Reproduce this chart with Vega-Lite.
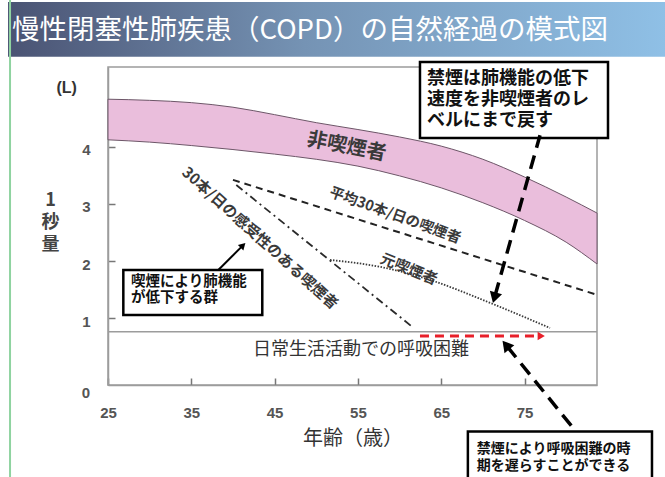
{
  "$schema": "https://vega.github.io/schema/vega-lite/v6.json",
  "width": 489,
  "height": 318,
  "autosize": {"type": "none"},
  "padding": {"left": 108, "top": 67, "right": 68, "bottom": 92},
  "background": "white",
  "config": {
    "view": {"stroke": "#9c9c9c", "strokeWidth": 1.5},
    "font": "Noto Sans CJK JP"
  },
  "datasets": {
    "banner": [{"age": 13.0, "age2": 92, "fev": 6.53, "fev2": 5.57}],
    "edge": [{"age": 13.24, "fev": 6.6, "fev2": -1.9}],
    "threshold": [{"age": 25, "age2": 83.7, "fev": 0.766}],
    "band": [
      {"age": 25, "fev": 4.83, "fev2": 4.12},
      {"age": 30, "fev": 4.81, "fev2": 4.08},
      {"age": 35, "fev": 4.77, "fev2": 4.02},
      {"age": 40, "fev": 4.69, "fev2": 3.95},
      {"age": 45, "fev": 4.56, "fev2": 3.87},
      {"age": 50, "fev": 4.42, "fev2": 3.78},
      {"age": 55, "fev": 4.30, "fev2": 3.66},
      {"age": 60, "fev": 4.17, "fev2": 3.49},
      {"age": 65, "fev": 4.01, "fev2": 3.28},
      {"age": 70, "fev": 3.78, "fev2": 3.02},
      {"age": 75, "fev": 3.47, "fev2": 2.71},
      {"age": 80, "fev": 3.12, "fev2": 2.33},
      {"age": 83.7, "fev": 2.84, "fev2": 1.95}
    ],
    "curves": [
      {"series": "avg", "age": 40.0, "fev": 3.42},
      {"series": "avg", "age": 83.7, "fev": 1.41},
      {"series": "sus", "age": 40.4, "fev": 3.33},
      {"series": "sus", "age": 61.7, "fev": 0.83},
      {"series": "ex", "age": 51.65, "fev": 2.02},
      {"series": "ex", "age": 57.65, "fev": 1.90},
      {"series": "ex", "age": 63.66, "fev": 1.67},
      {"series": "ex", "age": 70.86, "fev": 1.27},
      {"series": "ex", "age": 78.06, "fev": 0.83}
    ],
    "arrows": [
      {"arrow": "a1", "age": 76.86, "fev": 4.20},
      {"arrow": "a1", "age": 71.45, "fev": 1.39},
      {"arrow": "a2", "age": 80.86, "fev": -0.923},
      {"arrow": "a2", "age": 72.91, "fev": 0.509},
      {"arrow": "a3", "age": 38.24, "fev": 1.844},
      {"arrow": "a3", "age": 41.11, "fev": 2.262},
      {"arrow": "red", "age": 62.45, "fev": 0.69},
      {"arrow": "red", "age": 76.86, "fev": 0.69}
    ],
    "heads": [
      {"arrow": "a1", "age": 71.45, "fev": 1.39},
      {"arrow": "a2", "age": 72.91, "fev": 0.509},
      {"arrow": "a3", "age": 41.11, "fev": 2.262},
      {"arrow": "red", "age": 76.86, "fev": 0.69}
    ],
    "boxes": [
      {"box": "b1", "age": 62.45, "age2": 85.02, "fev": 5.48, "fev2": 4.15},
      {"box": "b2", "age": 26.84, "age2": 43.52, "fev": 1.844, "fev2": 1.058},
      {"box": "b3", "age": 68.2, "age2": 90.3, "fev": -0.98, "fev2": -1.95}
    ],
    "labels": [
      {"key": "title", "label": "慢性閉塞性肺疾患（COPD）の自然経過の模式図", "age": 13.48, "fev": 6.02},
      {"key": "unit", "label": "(L)", "age": 20.04, "fev": 5.03},
      {"key": "zero", "label": "0", "age": 22.36, "fev": -0.306},
      {"key": "non", "label": "非喫煙者", "age": 53.66, "fev": 4.0},
      {"key": "avg", "label": "平均30本/日の喫煙者", "age": 59.45, "fev": 2.79},
      {"key": "ex", "label": "元喫煙者", "age": 61.13, "fev": 1.86},
      {"key": "sus", "label": "30本/日の感受性のある喫煙者", "age": 43.25, "fev": 2.40},
      {"key": "thr", "label": "日常生活活動での呼吸困難", "age": 55.37, "fev": 0.446},
      {"key": "b1", "label": "禁煙は肺機能の低下\n速度を非喫煙者のレ\nベルにまで戻す", "age": 63.3, "fev": 5.34},
      {"key": "b2", "label": "喫煙により肺機能\nが低下する群", "age": 27.76, "fev": 1.757},
      {"key": "b3", "label": "禁煙により呼吸困難の時\n期を遅らすことができる", "age": 69.26, "fev": -1.163}
    ]
  },
  "encoding": {
    "x": {
      "field": "age", "type": "quantitative",
      "scale": {"domain": [25, 83.7], "nice": false, "zero": false},
      "axis": {
        "values": [25, 35, 45, 55, 65, 75],
        "title": "年齢（歳）",
        "titleFont": "Noto Sans CJK JP", "titleFontSize": 20, "titleFontWeight": "normal", "titleColor": "#333",
        "titleBaseline": "middle", "titleY": 53,
        "labelFont": "Liberation Sans Narrow, Liberation Sans", "labelFontSize": 15, "labelFontWeight": "bold", "labelColor": "#555",
        "labelFlush": false, "labelPadding": 27,
        "tickSize": -7, "tickColor": "#777", "tickWidth": 1.5,
        "domainColor": "#9c9c9c", "domainWidth": 1.5, "grid": false
      }
    },
    "y": {
      "field": "fev", "type": "quantitative",
      "scale": {"domain": [-0.166, 5.393], "nice": false, "zero": false},
      "axis": {
        "values": [1, 2, 3, 4],
        "title": ["1", "秒", "量"],
        "titleFont": "Noto Sans CJK JP", "titleFontSize": 18, "titleFontWeight": "bold", "titleColor": "#444",
        "titleAngle": 0, "titleAlign": "center", "titleBaseline": "top", "titleX": -58, "titleY": 124, "titleLineHeight": 22,
        "labelFont": "Liberation Sans Narrow, Liberation Sans", "labelFontSize": 15, "labelFontWeight": "bold", "labelColor": "#555",
        "labelPadding": 25, "labelOffset": 3,
        "tickSize": -7, "tickColor": "#777", "tickWidth": 1.5,
        "domainColor": "#9c9c9c", "domainWidth": 1.5, "grid": false
      }
    }
  },
  "layer": [
    {
      "data": {"name": "banner"},
      "mark": {"type": "rect", "color": {"gradient": "linear", "stops": [{"offset": 0, "color": "#4a5373"}, {"offset": 0.45, "color": "#7593b4"}, {"offset": 1, "color": "#8fc0e6"}]}},
      "encoding": {"x2": {"field": "age2"}, "y2": {"field": "fev2"}}
    },
    {
      "data": {"name": "edge"},
      "mark": {"type": "rule", "color": "#8fd3a0", "strokeWidth": 2},
      "encoding": {"y2": {"field": "fev2"}}
    },
    {
      "data": {"name": "band"},
      "mark": {"type": "area", "fill": "#eabedc", "stroke": "#6d5668", "strokeWidth": 1, "interpolate": "monotone"},
      "encoding": {"y2": {"field": "fev2"}}
    },
    {
      "data": {"name": "threshold"},
      "mark": {"type": "rule", "color": "#9c9c9c", "strokeWidth": 1.5},
      "encoding": {"x2": {"field": "age2"}}
    },
    {
      "data": {"name": "curves"},
      "transform": [{"filter": "datum.series == 'avg'"}],
      "mark": {"type": "line", "color": "#222", "strokeWidth": 2, "strokeDash": [7, 5]},
      "encoding": {}
    },
    {
      "data": {"name": "curves"},
      "transform": [{"filter": "datum.series == 'sus'"}],
      "mark": {"type": "line", "color": "#2a2a2a", "strokeWidth": 1.8, "strokeDash": [8, 4, 2, 4]},
      "encoding": {}
    },
    {
      "data": {"name": "curves"},
      "transform": [{"filter": "datum.series == 'ex'"}],
      "mark": {"type": "line", "color": "#3a3a3a", "strokeWidth": 1.8, "strokeDash": [1.5, 1.5], "interpolate": "monotone"},
      "encoding": {}
    },
    {
      "data": {"name": "labels"},
      "transform": [{"filter": "datum.key == 'title'"}],
      "mark": {"type": "text", "align": "left", "baseline": "middle", "fontSize": 27.5, "fontWeight": "normal", "color": "white"},
      "encoding": {"text": {"field": "label"}}
    },
    {
      "data": {"name": "labels"},
      "transform": [{"filter": "datum.key == 'unit'"}],
      "mark": {"type": "text", "align": "center", "baseline": "middle", "fontSize": 16, "fontWeight": "bold", "color": "#333", "font": "Liberation Sans"},
      "encoding": {"text": {"field": "label"}}
    },
    {
      "data": {"name": "labels"},
      "transform": [{"filter": "datum.key == 'zero'"}],
      "mark": {"type": "text", "align": "center", "baseline": "middle", "fontSize": 15, "fontWeight": "bold", "color": "#555", "font": "Liberation Sans Narrow, Liberation Sans"},
      "encoding": {"text": {"field": "label"}}
    },
    {
      "data": {"name": "labels"},
      "transform": [{"filter": "datum.key == 'non'"}],
      "mark": {"type": "text", "align": "center", "baseline": "middle", "fontSize": 20, "fontWeight": "bold", "color": "#3a3a3a", "angle": 11},
      "encoding": {"text": {"field": "label"}}
    },
    {
      "data": {"name": "labels"},
      "transform": [{"filter": "datum.key == 'avg'"}],
      "mark": {"type": "text", "align": "center", "baseline": "middle", "fontSize": 14.5, "fontWeight": "bold", "color": "#3a3a3a", "angle": 20},
      "encoding": {"text": {"field": "label"}}
    },
    {
      "data": {"name": "labels"},
      "transform": [{"filter": "datum.key == 'ex'"}],
      "mark": {"type": "text", "align": "center", "baseline": "middle", "fontSize": 15, "fontWeight": "bold", "color": "#3a3a3a", "angle": 22},
      "encoding": {"text": {"field": "label"}}
    },
    {
      "data": {"name": "labels"},
      "transform": [{"filter": "datum.key == 'sus'"}],
      "mark": {"type": "text", "align": "center", "baseline": "middle", "fontSize": 15, "fontWeight": "bold", "color": "#3a3a3a", "angle": 42},
      "encoding": {"text": {"field": "label"}}
    },
    {
      "data": {"name": "labels"},
      "transform": [{"filter": "datum.key == 'thr'"}],
      "mark": {"type": "text", "align": "center", "baseline": "middle", "fontSize": 18, "fontWeight": "normal", "color": "#333"},
      "encoding": {"text": {"field": "label"}}
    },
    {
      "data": {"name": "boxes"},
      "mark": {"type": "rect", "fill": "white", "stroke": "black", "strokeWidth": 2.5},
      "encoding": {"x2": {"field": "age2"}, "y2": {"field": "fev2"}}
    },
    {
      "data": {"name": "labels"},
      "transform": [{"filter": "datum.key == 'b1'"}],
      "mark": {"type": "text", "align": "left", "baseline": "top", "fontSize": 18, "fontWeight": "bold", "color": "#111", "lineBreak": "\n", "lineHeight": 21},
      "encoding": {"text": {"field": "label"}}
    },
    {
      "data": {"name": "labels"},
      "transform": [{"filter": "datum.key == 'b2'"}],
      "mark": {"type": "text", "align": "left", "baseline": "top", "fontSize": 14.5, "fontWeight": "bold", "color": "#111", "lineBreak": "\n", "lineHeight": 16.5},
      "encoding": {"text": {"field": "label"}}
    },
    {
      "data": {"name": "labels"},
      "transform": [{"filter": "datum.key == 'b3'"}],
      "mark": {"type": "text", "align": "left", "baseline": "top", "fontSize": 14, "fontWeight": "bold", "color": "#111", "lineBreak": "\n", "lineHeight": 16.5},
      "encoding": {"text": {"field": "label"}}
    },
    {
      "data": {"name": "arrows"},
      "transform": [{"filter": "datum.arrow == 'a1' || datum.arrow == 'a2'"}],
      "mark": {"type": "line", "color": "black", "strokeWidth": 3.5, "strokeDash": [14, 8]},
      "encoding": {"detail": {"field": "arrow"}}
    },
    {
      "data": {"name": "arrows"},
      "transform": [{"filter": "datum.arrow == 'a3'"}],
      "mark": {"type": "line", "color": "black", "strokeWidth": 2},
      "encoding": {}
    },
    {
      "data": {"name": "arrows"},
      "transform": [{"filter": "datum.arrow == 'red'"}],
      "mark": {"type": "line", "color": "#e8202a", "strokeWidth": 3, "strokeDash": [9, 6]},
      "encoding": {}
    },
    {
      "data": {"name": "heads"},
      "transform": [{"filter": "datum.arrow == 'a1'"}],
      "mark": {"type": "point", "shape": "triangle", "filled": true, "color": "black", "size": 160, "angle": 196, "opacity": 1},
      "encoding": {}
    },
    {
      "data": {"name": "heads"},
      "transform": [{"filter": "datum.arrow == 'a2'"}],
      "mark": {"type": "point", "shape": "triangle", "filled": true, "color": "black", "size": 160, "angle": 321, "opacity": 1},
      "encoding": {}
    },
    {
      "data": {"name": "heads"},
      "transform": [{"filter": "datum.arrow == 'a3'"}],
      "mark": {"type": "point", "shape": "triangle", "filled": true, "color": "black", "size": 60, "angle": 45, "opacity": 1},
      "encoding": {}
    },
    {
      "data": {"name": "heads"},
      "transform": [{"filter": "datum.arrow == 'red'"}],
      "mark": {"type": "point", "shape": "triangle", "filled": true, "color": "#e8202a", "size": 70, "angle": 90, "opacity": 1},
      "encoding": {}
    }
  ]
}
